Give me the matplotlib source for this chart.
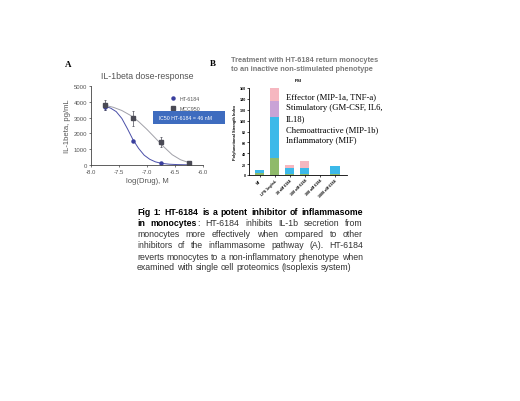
import numpy as np
import matplotlib
matplotlib.use("Agg")
import matplotlib.pyplot as plt
from matplotlib.lines import Line2D

# panel A: dose response
log_dose = [-7.75, -7.25, -6.75, -6.25]
ht6184 = [3650, 1550, 100, 50]
ht6184_err = [180, 60, 40, 30]
mcc950 = [3800, 2950, 1450, 150]
mcc950_err = [300, 450, 330, 130]

# fitted curves
ht_curve_x = [-7.75, -7.65, -7.55, -7.45, -7.35, -7.25, -7.15, -7.05, -6.95, -6.85, -6.75, -6.6, -6.45, -6.25]
ht_curve_y = [3720, 3600, 3380, 2950, 2300, 1600, 1050, 620, 360, 200, 110, 50, 25, 10]
mcc_curve_x = [-7.75, -7.6, -7.45, -7.3, -7.15, -7.0, -6.85, -6.7, -6.55, -6.4, -6.25]
mcc_curve_y = [3780, 3650, 3450, 3150, 2750, 2250, 1700, 1150, 650, 330, 150]

# panel B: PSI stacked bars
groups = ["NT", "LPS 1ng/mL", "30 nM 6184", "100 nM 6184", "300 nM 6184", "1000 nM 6184"]
inflammatory = [3, 32, 2, 1, 0, 1]
chemoattractive = [7, 75, 10, 12, 0, 15]
stimulatory = [0, 30, 0, 0, 0, 0]
effector = [0, 23, 7, 12, 0, 1]
legend_lines = ["Effector (MIP-1a, TNF-a)", "Stimulatory (GM-CSF, IL6,", "IL18)",
                "Chemoattractive (MIP-1b)", "Inflammatory (MIF)"]

caption = [
    [("Fig 1: HT-6184 is a potent inhibitor of inflammasome", True)],
    [("in monocytes", True), (": HT-6184 inhibits IL-1b secretion from", False)],
    [("monocytes more effectively when compared to other", False)],
    [("inhibitors of the inflammasome pathway (A). HT-6184", False)],
    [("reverts monocytes to a non-inflammatory phenotype when", False)],
    [("examined with single cell proteomics (Isoplexis system)", False)],
]

W, H = 520, 402
fig = plt.figure(figsize=(W / 100, H / 100), dpi=100)
plt.rcParams['font.family'] = ['Liberation Sans', 'DejaVu Sans']

def fx(px):
    return px / W

def fy(py):
    return 1 - py / H

grey = "#555555"

# ---- panel A
ax = fig.add_axes([fx(91), fy(166), fx(203) - fx(91), fy(87) - fy(166)])
ax.plot(ht_curve_x, ht_curve_y, color="#4a4fa8", lw=0.7)
ax.plot(mcc_curve_x, mcc_curve_y, color="#a0a0a8", lw=0.7)
ax.errorbar(log_dose, ht6184, yerr=ht6184_err, fmt="o", color="#3a3f9e", ms=2.2,
            elinewidth=0.5, capsize=1, capthick=0.5)
ax.errorbar(log_dose, mcc950, yerr=mcc950_err, fmt="s", color="#4a4a55", ms=2.2,
            elinewidth=0.5, capsize=1, capthick=0.5)
ax.set_xlim(-8.0, -6.0)
ax.set_ylim(0, 5000)
ax.set_xticks([-8.0, -7.5, -7.0, -6.5, -6.0])
ax.set_xticklabels(["-8.0", "-7.5", "-7.0", "-6.5", "-6.0"])
ax.set_yticks([0, 1000, 2000, 3000, 4000, 5000])
for s in ["top", "right"]:
    ax.spines[s].set_visible(False)
for s in ["left", "bottom"]:
    ax.spines[s].set_linewidth(0.6)
    ax.spines[s].set_color("#444444")
ax.tick_params(labelsize=4.3, length=1.5, width=0.5, pad=1.5, colors="#444444", labelcolor=grey)
ax.set_xlabel("log(Drug), M", fontsize=5.5, color=grey, labelpad=2)
ax.set_ylabel("IL-1beta, pg/mL", fontsize=5.5, color=grey, labelpad=2)
ax.set_title("IL-1beta dose-response", fontsize=6.3, color=grey, pad=6)
handles = [Line2D([], [], marker="o", ls="none", color="#3a3f9e", ms=2.2),
           Line2D([], [], marker="s", ls="none", color="#4a4a55", ms=2.2)]
ax.legend(handles, ["HT-6184", "MCC950"], loc="upper right", bbox_to_anchor=(1.02, 0.93),
          frameon=False, fontsize=3.8, handlelength=0.8, handletextpad=0.8,
          labelspacing=0.9, labelcolor=grey)
fig.text(fx(157), fy(118.5), " IC50 HT-6184 = 46 nM      ", fontsize=3.8, color="white",
         va="center", ha="left",
         bbox=dict(boxstyle="square,pad=0.8", fc="#3e6cbf", ec="none"))
fig.text(fx(68), fy(65), "A", fontsize=6.5, fontweight="bold", family="Liberation Serif",
         ha="center", va="center")

# ---- panel B
bx = fig.add_axes([fx(249), fy(176), fx(347) - fx(249), fy(89) - fy(176)])
pos = np.arange(len(groups))
colors = ["#8fba6a", "#3cb9e9", "#c9a3d6", "#f6b7c0"]
bottom = np.zeros(len(groups))
for vals, c in zip([inflammatory, chemoattractive, stimulatory, effector], colors):
    bx.bar(pos, vals, width=0.62, bottom=bottom, color=c, edgecolor="none")
    bottom += np.array(vals)
bx.set_xlim(-0.7, 5.8)
bx.set_ylim(0, 160)
bx.set_yticks(range(0, 161, 20))
bx.set_xticks(pos)
bx.set_xticklabels(groups, rotation=45, ha="right", rotation_mode="anchor")
for s in ["top", "right"]:
    bx.spines[s].set_visible(False)
for s in ["left", "bottom"]:
    bx.spines[s].set_linewidth(0.6)
bx.tick_params(labelsize=2.6, length=1.2, width=0.5, pad=1)
for t in bx.get_xticklabels() + bx.get_yticklabels():
    t.set_fontweight("bold")
bx.set_ylabel("Polyfunctional Strength Index", fontsize=2.8, fontweight="bold", labelpad=2)
bx.set_title("PSI", fontsize=3.2, fontweight="bold", pad=5)
for i, line in enumerate(legend_lines):
    fig.text(fx(286), fy(97 + i * 11), line, fontsize=6.2, family="Liberation Serif",
             va="center", ha="left")
fig.text(fx(231), fy(61), "Treatment with HT-6184 return monocytes", fontsize=5.3,
         color="#7a7a7a", fontweight="bold", va="center")
fig.text(fx(231), fy(69.5), "to an inactive non-stimulated phenotype", fontsize=5.3,
         color="#7a7a7a", fontweight="bold", va="center")
fig.text(fx(213), fy(64), "B", fontsize=6.5, fontweight="bold", family="Liberation Serif",
         ha="center", va="center")

# ---- caption, justified
fig.canvas.draw()
r = fig.canvas.get_renderer()
x0, x1 = 137, 363
cap_fs = 6.35
for li, parts in enumerate(caption):
    y = 213 + li * 11
    words = []
    for txt, bold in parts:
        for k, w in enumerate(txt.split(" ")):
            if w == "":
                continue
            glue = k == 0 and txt.startswith(":")
            words.append([w, bold, glue])
    items = []
    for w, bold, glue in words:
        t = fig.text(0, 0, w, fontsize=cap_fs, fontweight="bold" if bold else "normal")
        wd = t.get_window_extent(r).width
        t.remove()
        items.append((w, bold, glue, wd))
    total = sum(it[3] for it in items)
    ngaps = sum(1 for it in items[1:] if not it[2])
    last = li == len(caption) - 1
    gap = 2.4 if last or ngaps == 0 else (x1 - x0 - total) / ngaps
    x = x0
    for j, (w, bold, glue, wd) in enumerate(items):
        if j > 0 and not glue:
            x += gap
        fig.text(fx(x), fy(y), w, fontsize=cap_fs, fontweight="bold" if bold else "normal",
                 color="black" if bold else "#333333", va="center", ha="left")
        x += wd

fig.savefig("out.png", dpi=100, facecolor="white")
